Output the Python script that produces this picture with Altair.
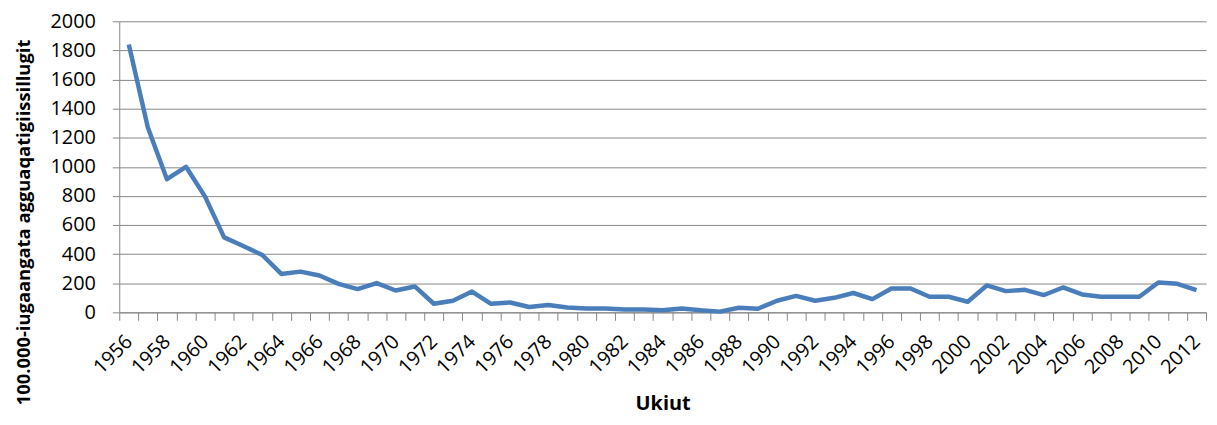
import altair as alt
import pandas as pd

years = list(range(1956, 2013))
values = [1840, 1270, 915, 1000, 795, 515, 456, 394, 264, 280,
          253, 196, 160, 201, 150, 178, 59, 80, 143, 59,
          68, 37, 50, 34, 27, 27, 20, 20, 14, 27,
          14, 5, 32, 25, 80, 113, 80, 100, 133, 91,
          164, 164, 107, 107, 73, 185, 146, 155, 119, 171,
          123, 107, 107, 107, 205, 196, 153]
y_ticks = list(range(0, 2001, 200))
x_labels = list(range(1956, 2013, 2))
x_bounds = [y - 0.5 for y in range(1956, 2014)]

df = pd.DataFrame({"year": years, "value": values})

GRAY = "#878787"
FONT = "Open Sans"

chart = alt.Chart(df).mark_line(color="#4A7EBB", strokeWidth=4.5, strokeJoin="round").encode(
    x=alt.X("year:Q",
            scale=alt.Scale(domain=[1955.5, 2012.5], nice=False, zero=False),
            axis=alt.Axis(values=x_bounds + x_labels,
                          labelExpr="datum.value % 2 == 0 ? '' + datum.value : ''",
                          labelOverlap=False,
                          labelAngle=-45,
                          labelAlign="right",
                          labelBaseline="middle",
                          labelPadding=18,
                          labelFontSize=20,
                          labelFont=FONT,
                          labelColor="#000000",
                          tickColor={"condition": {"test": "datum.value % 1 != 0", "value": GRAY},
                                     "value": "transparent"},
                          tickSize=8,
                          domainColor=GRAY,
                          grid=False,
                          title="Ukiut",
                          titleFont=FONT,
                          titleFontSize=20,
                          titleFontWeight="bold",
                          titleColor="#000000",
                          titlePadding=16)),
    y=alt.Y("value:Q",
            scale=alt.Scale(domain=[0, 2000], nice=False),
            axis=alt.Axis(values=y_ticks,
                          format="d",
                          labelFontSize=20,
                          labelFont=FONT,
                          labelColor="#000000",
                          labelPadding=17,
                          tickColor=GRAY,
                          tickSize=7,
                          domainColor=GRAY,
                          gridColor=GRAY,
                          gridWidth=1,
                          title="100.000-iugaangata agguaqatigiissillugit",
                          titleFont=FONT,
                          titleFontSize=18.5,
                          titleFontWeight="bold",
                          titleColor="#000000",
                          titleAngle=270,
                          titleAlign="center",
                          titleBaseline="middle",
                          titleX=-96,
                          titleY=202)),
).properties(
    width=1094,
    height=293,
    autosize=alt.AutoSizeParams(type="none"),
    padding={"left": 112, "top": 12, "right": 3, "bottom": 110},
).configure_view(stroke=None)

chart.save("out.html", embed_options={"renderer": "svg", "actions": False})
